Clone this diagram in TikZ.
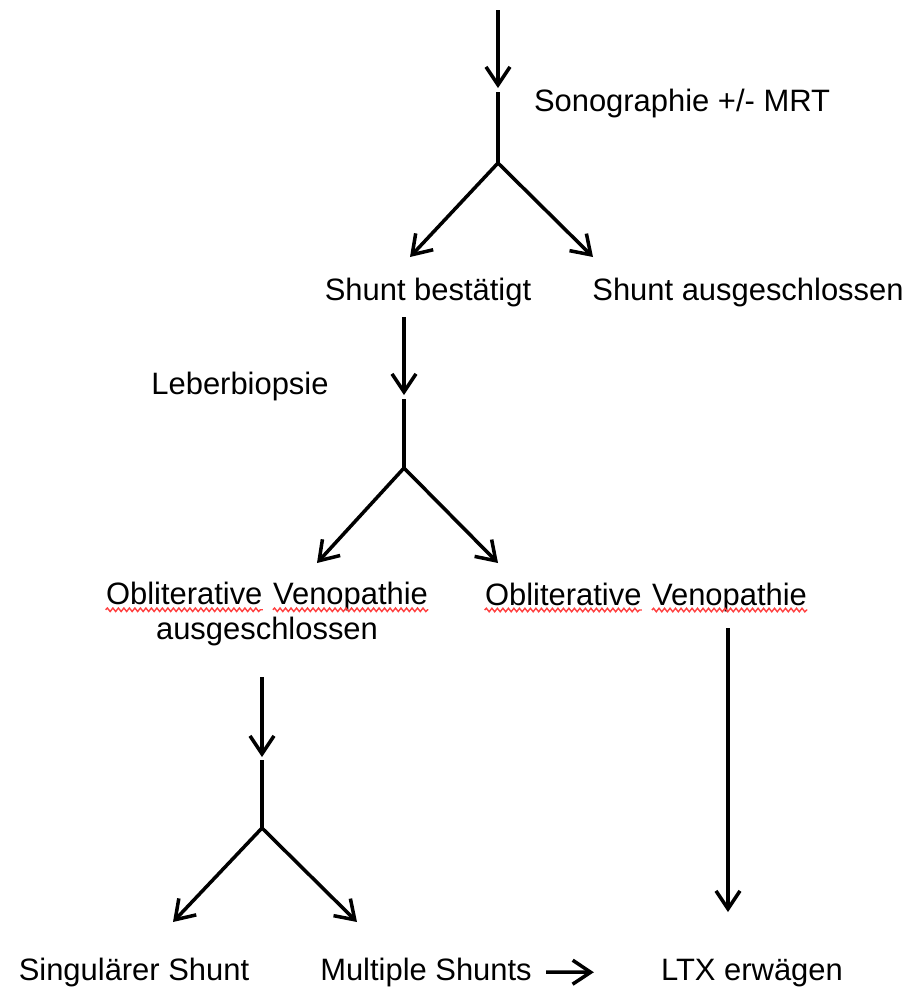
\documentclass[tikz,border=0pt]{standalone}
\usepackage{fontspec}
\setmainfont{Liberation Sans}
\usetikzlibrary{arrows.meta}
\usetikzlibrary{decorations.pathmorphing}
\tikzset{spell/.style={draw=red!75, line width=0.8pt, decorate,
  decoration={snake, amplitude=0.035cm, segment length=0.11cm}}}
\newcommand{\squig}[1]{\tikz[baseline=(w.base)]{\node[inner sep=0pt,anchor=base] (w) {#1};
  \draw[spell] ([yshift=-0.1cm]w.base west) -- ([yshift=-0.1cm]w.base east);}}

\begin{document}
\begin{tikzpicture}[x=0.2mm, y=-0.2mm,
  ln/.style={line width=2pt},
  arr/.style={line width=2pt, -{Straight Barb[length=3.6mm,width=4.8mm]}},
  lbl/.style={inner sep=0pt, font=\fontsize{17.6}{19.9}\selectfont}]
\useasboundingbox (0,0) rectangle (911,995);

\node[lbl, anchor=base] (sono) at (682,111) {Sonographie +/- MRT}; %row 1
\node[lbl, anchor=base] (best) at (428,300) {Shunt bestätigt}; %row 2
\node[lbl, anchor=base] (ausg) at (748,300) {Shunt ausgeschlossen};
\node[lbl, anchor=base] (leber) at (240,394) {Leberbiopsie}; %row 3
\node[lbl, anchor=north, align=center] (ovaus) at (267,582)
  {\squig{Obliterative} \squig{Venopathie}\\ausgeschlossen}; %row 4
\node[lbl, anchor=base] (ov) at (646,605) {\squig{Obliterative} \squig{Venopathie}};
\node[lbl, anchor=base] (sing) at (134,980) {Singulärer Shunt}; %row 5
\node[lbl, anchor=base] (multi) at (426,980) {Multiple Shunts};
\node[lbl, anchor=base] (ltx) at (752,980) {LTX erwägen};

\coordinate (in) at (498,10); %fork 1
\coordinate (t1) at (498,88);
\coordinate (s1) at (498,92);
\coordinate (b1) at (498,163);
\coordinate (l1) at (410,257);
\coordinate (r1) at (593,257);

\coordinate (in2) at (404,317); %fork 2
\coordinate (t2) at (404,395);
\coordinate (s2) at (404,399);
\coordinate (b2) at (404,468);
\coordinate (l2) at (317,563);
\coordinate (r2) at (498,563);

\coordinate (in3) at (262,677); %fork 3
\coordinate (t3) at (262,757);
\coordinate (s3) at (262,760);
\coordinate (b3) at (262,828);
\coordinate (l3) at (173,922);
\coordinate (r3) at (357,922);

\coordinate (in4) at (728,628); %long arrow
\coordinate (t4) at (728,912);

\draw[arr] (in) -- (t1);
\draw[ln] (s1) -- (b1);
\draw[arr] (b1) -- (l1);
\draw[arr] (b1) -- (r1);

\draw[arr] (in2) -- (t2);
\draw[ln] (s2) -- (b2);
\draw[arr] (b2) -- (l2);
\draw[arr] (b2) -- (r2);

\draw[arr] (in3) -- (t3);
\draw[ln] (s3) -- (b3);
\draw[arr] (b3) -- (l3);
\draw[arr] (b3) -- (r3);

\draw[arr] (in4) -- (t4);

\draw[arr, shorten <=0.28cm, shorten >=1.34cm] (multi.east) -- (ltx.west);

\end{tikzpicture}
\end{document}
